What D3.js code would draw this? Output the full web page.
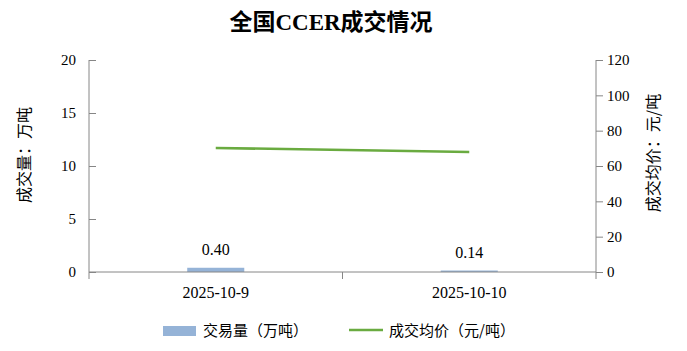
<!DOCTYPE html>
<html>
<head>
<meta charset="utf-8">
<script src="https://cdn.jsdelivr.net/npm/d3@7"></script>
<style>
  body { margin: 0; background: #fff; }
  svg { display: block; }
</style>
</head>
<body>
<div id="chart"></div>
<script>
// data
const dates = ["2025-10-9", "2025-10-10"];
const volume = [0.40, 0.14];      // 万吨
const price = [70.2, 67.9];       // 元/吨

const width = 687, height = 351;
const margin = {top: 60, right: 91, bottom: 79, left: 89};
const serif = "'Liberation Serif', 'Times New Roman', 'Noto Sans CJK SC', serif";
const sans = "'Noto Sans CJK SC', 'Microsoft YaHei', sans-serif";
const axisGrey = "#868686";

const svg = d3.select("#chart").append("svg")
    .attr("width", width)
    .attr("height", height)
    .attr("viewBox", [0, 0, width, height]);

const x = d3.scaleBand(dates, [margin.left, width - margin.right]);
const yL = d3.scaleLinear([0, 20], [height - margin.bottom, margin.top]);
const yR = d3.scaleLinear([0, 120], [height - margin.bottom, margin.top]);

// title
svg.append("text")
    .attr("x", 331).attr("y", 30)
    .attr("text-anchor", "middle")
    .style("font", `bold 23px ${serif}`)
    .text("全国CCER成交情况");

// bars
const barW = x.bandwidth() * 0.225;
svg.append("g")
    .selectAll("rect")
    .data(volume)
    .join("rect")
        .attr("x", (d, i) => x(dates[i]) + x.bandwidth() / 2 - barW / 2)
        .attr("y", d => yL(d))
        .attr("width", barW)
        .attr("height", d => yL(0) - yL(d))
        .attr("fill", "#95b3d7");

// bar labels
svg.append("g")
    .style("font", `16px ${serif}`)
    .selectAll("text")
    .data(volume)
    .join("text")
        .attr("x", (d, i) => x(dates[i]) + x.bandwidth() / 2)
        .attr("y", d => yL(d) - 13)
        .attr("text-anchor", "middle")
        .text(d => d.toFixed(2));

// price line
const line = d3.line()
    .x((d, i) => x(dates[i]) + x.bandwidth() / 2)
    .y(d => yR(d));
svg.append("path")
    .datum(price)
    .attr("fill", "none")
    .attr("stroke", "#6aab40")
    .attr("stroke-width", 2.5)
    .attr("d", line);

// axes
function styleAxis(size) {
    return g => {
        g.selectAll("path, line").attr("stroke", axisGrey);
        g.selectAll("text").style("font", `${size}px ${serif}`).attr("fill", "#000");
    };
}

svg.append("g")
    .attr("transform", `translate(${margin.left},0)`)
    .call(d3.axisLeft(yL).ticks(4).tickSizeInner(-7).tickSizeOuter(0).tickPadding(13))
    .call(styleAxis(15))
    .call(g => g.select(".domain").attr("d", `M0,${yL(20)}V${yL(0) + 7}`));

svg.append("g")
    .attr("transform", `translate(${width - margin.right},0)`)
    .call(d3.axisRight(yR).ticks(6).tickSizeInner(7).tickSizeOuter(0).tickPadding(4))
    .call(styleAxis(15))
    .call(g => g.select(".domain").attr("d", `M0,${yR(120)}V${yR(0) + 7}`));

svg.append("g")
    .attr("transform", `translate(0,${height - margin.bottom})`)
    .call(d3.axisBottom(x).tickSize(0).tickPadding(15))
    .call(styleAxis(16))
    .call(g => g.select(".domain").attr("d", `M${margin.left},0H${width - margin.right}`));

// middle category divider tick
svg.append("line")
    .attr("x1", x(dates[1])).attr("x2", x(dates[1]))
    .attr("y1", yL(0)).attr("y2", yL(0) + 7)
    .attr("stroke", axisGrey);

// axis titles
svg.append("text")
    .attr("transform", `translate(30,155) rotate(-90)`)
    .attr("text-anchor", "middle")
    .style("font", `16px ${sans}`)
    .text("成交量：万吨");

svg.append("text")
    .attr("transform", `translate(659,153) rotate(-90)`)
    .attr("text-anchor", "middle")
    .style("font", `16px ${sans}`)
    .text("成交均价：元/吨");

// legend
const legend = svg.append("g").style("font", `15px ${sans}`);
legend.append("rect")
    .attr("x", 163).attr("y", 326)
    .attr("width", 33).attr("height", 10)
    .attr("fill", "#95b3d7");
legend.append("text")
    .attr("x", 203).attr("y", 336)
    .text("交易量（万吨）");
legend.append("line")
    .attr("x1", 349).attr("x2", 383)
    .attr("y1", 330).attr("y2", 330)
    .attr("stroke", "#6aab40")
    .attr("stroke-width", 2.5);
legend.append("text")
    .attr("x", 389).attr("y", 336)
    .text("成交均价（元/吨）");
</script>
</body>
</html>
